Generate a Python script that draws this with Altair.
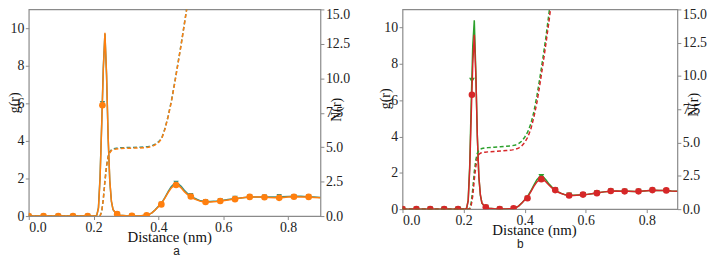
import altair as alt
import pandas as pd

# fine grid for g(r)
r = [0.0, 0.05, 0.1, 0.15, 0.2, 0.205, 0.21, 0.215, 0.22, 0.225, 0.23, 0.235, 0.24, 0.245, 0.25,
     0.255, 0.26, 0.27, 0.28, 0.3, 0.32, 0.34, 0.36, 0.37, 0.38, 0.39, 0.4, 0.41, 0.42, 0.43,
     0.44, 0.45, 0.46, 0.47, 0.48, 0.49, 0.5, 0.51, 0.52, 0.53, 0.545, 0.56, 0.58, 0.6, 0.62,
     0.64, 0.66, 0.68, 0.7, 0.72, 0.74, 0.76, 0.78, 0.8, 0.82, 0.84, 0.86, 0.88, 0.9]

ga_teal = [0, 0, 0, 0, 0, 0, 0.05, 0.45, 2.1, 4.9, 7.9, 9.7, 7.5, 4.1, 1.85,
           0.78, 0.34, 0.12, 0.05, 0.02, 0.01, 0.01, 0.04, 0.08, 0.17, 0.33, 0.52, 0.7, 0.98, 1.3,
           1.57, 1.74, 1.74, 1.58, 1.37, 1.2, 1.08, 0.96, 0.88, 0.81, 0.77, 0.77, 0.8, 0.84, 0.89,
           0.94, 0.98, 1.01, 1.02, 1.02, 1.02, 1.02, 1.03, 1.04, 1.05, 1.05, 1.03, 1.01, 0.99]
ga_orange = [0, 0, 0, 0, 0, 0, 0.05, 0.4, 2.0, 4.8, 7.8, 9.75, 7.6, 4.2, 1.9,
             0.8, 0.35, 0.12, 0.05, 0.02, 0.01, 0.01, 0.04, 0.08, 0.17, 0.32, 0.5, 0.68, 0.95, 1.25,
             1.5, 1.66, 1.66, 1.5, 1.3, 1.14, 1.02, 0.92, 0.85, 0.79, 0.75, 0.75, 0.78, 0.82, 0.87,
             0.92, 0.97, 1.01, 1.02, 1.01, 0.99, 0.97, 0.98, 1.01, 1.03, 1.02, 1.01, 0.99, 0.97]
gb_green = [0, 0, 0, 0, 0, 0, 0.06, 0.5, 2.4, 5.9, 9.0, 10.4, 7.6, 4.0, 1.75,
            0.75, 0.33, 0.12, 0.05, 0.02, 0.01, 0.01, 0.04, 0.08, 0.17, 0.33, 0.52, 0.72, 1.0, 1.33,
            1.62, 1.8, 1.78, 1.6, 1.38, 1.2, 1.07, 0.95, 0.87, 0.81, 0.77, 0.76, 0.78, 0.8, 0.85,
            0.9, 0.95, 0.99, 1.0, 0.99, 0.98, 0.97, 0.98, 1.01, 1.04, 1.03, 1.02, 1.0, 0.99]
gb_red = [0, 0, 0, 0, 0, 0, 0.05, 0.45, 2.2, 5.2, 8.0, 9.6, 7.4, 4.0, 1.8,
          0.78, 0.34, 0.12, 0.05, 0.02, 0.01, 0.01, 0.04, 0.08, 0.17, 0.32, 0.5, 0.68, 0.95, 1.25,
          1.5, 1.64, 1.64, 1.5, 1.32, 1.16, 1.04, 0.93, 0.86, 0.8, 0.75, 0.75, 0.78, 0.8, 0.85,
          0.9, 0.95, 0.99, 1.0, 0.99, 0.98, 0.97, 0.98, 1.01, 1.04, 1.03, 1.02, 1.0, 0.99]

# grid for N(r)
rn = [0.0, 0.1, 0.2, 0.215, 0.22, 0.225, 0.23, 0.235, 0.24, 0.245, 0.25, 0.255, 0.26, 0.27,
      0.28, 0.3, 0.32, 0.34, 0.36, 0.37, 0.38, 0.39, 0.4, 0.41, 0.42, 0.43, 0.44, 0.45, 0.46,
      0.47, 0.48, 0.49, 0.5, 0.52]
na_teal = [0, 0, 0, 0, 0.02, 0.32, 1.25, 2.55, 3.65, 4.35, 4.65, 4.8, 4.87, 4.92,
           4.95, 4.97, 4.98, 4.99, 5.02, 5.05, 5.11, 5.21, 5.38, 5.65, 6.33, 7.25, 8.35, 9.65, 11.05,
           12.45, 13.95, 15.45, 17.0, 20.0]
na_orange = [0, 0, 0, 0, 0.02, 0.3, 1.2, 2.5, 3.6, 4.3, 4.6, 4.75, 4.82, 4.87,
             4.9, 4.92, 4.93, 4.94, 4.97, 5.0, 5.06, 5.16, 5.33, 5.6, 6.3, 7.2, 8.3, 9.6, 11.0,
             12.4, 13.9, 15.4, 17.0, 20.0]
nb_green = [0, 0, 0, 0, 0.05, 0.5, 1.5, 2.8, 3.7, 4.2, 4.4, 4.5, 4.55, 4.6,
            4.62, 4.65, 4.68, 4.72, 4.77, 4.82, 4.92, 5.1, 5.4, 5.8, 6.4, 7.3, 8.5, 9.9, 11.4,
            13.0, 14.8, 16.6, 18.4, 22.0]
nb_red = [0, 0, 0, 0, 0.02, 0.3, 1.0, 2.2, 3.2, 3.85, 4.1, 4.2, 4.25, 4.28,
          4.3, 4.33, 4.36, 4.4, 4.45, 4.5, 4.58, 4.74, 5.0, 5.4, 6.0, 6.9, 8.0, 9.4, 10.9,
          12.5, 14.2, 16.0, 17.8, 21.5]

# marker positions
mk_r = [0.0, 0.0455, 0.0909, 0.1364, 0.1818, 0.2273, 0.2727, 0.3182, 0.3636, 0.4091,
        0.4545, 0.5, 0.5455, 0.5909, 0.6364, 0.6818, 0.7273, 0.7727, 0.8182, 0.8636]
mka_teal = [0, 0, 0, 0, 0, 6.0, 0.1, 0.01, 0.04, 0.64, 1.75, 1.1, 0.77, 0.82, 0.95, 1.02, 1.02, 1.05, 1.05, 1.03]
mka_orange = [0, 0, 0, 0, 0, 5.9, 0.1, 0.01, 0.04, 0.62, 1.65, 1.04, 0.75, 0.8, 0.9, 1.02, 1.0, 0.97, 1.03, 1.02]
mkb_green = [0, 0, 0, 0, 0, 7.1, 0.1, 0.01, 0.04, 0.6, 1.8, 1.07, 0.77, 0.8, 0.9, 1.0, 0.98, 0.98, 1.04, 1.02]
mkb_red = [0, 0, 0, 0, 0, 6.3, 0.1, 0.01, 0.04, 0.6, 1.65, 1.05, 0.75, 0.8, 0.88, 1.0, 0.98, 0.98, 1.05, 1.03]

SERIF = "Liberation Serif"
AXIS_GREY = "#8a8a8a"


def panel(series, width, height, label, gx, gy, nx, ny, dx_title, label_offset, label_dx):
    xenc = alt.X("r:Q", scale=alt.Scale(domain=[0, 0.9], nice=False, zero=False),
                 axis=alt.Axis(values=[0, 0.2, 0.4, 0.6, 0.8], format=".1f",
                               labelFont=SERIF, titleFont=SERIF,
                               title="Distance (nm)", titleX=dx_title, titleY=21,
                               titleBaseline="middle", titleAlign="center"))
    genc = alt.Y("g:Q", scale=alt.Scale(domain=[0, 11], nice=False),
                 axis=alt.Axis(values=[0, 2, 4, 6, 8, 10], format="d", title="g(r)",
                               labelFont=SERIF, titleFont=SERIF, titleFontSize=14,
                               titleAngle=270, titleX=gx, titleY=gy,
                               titleBaseline="middle", titleAlign="center"))
    nenc = alt.Y("n:Q", scale=alt.Scale(domain=[0, 15], nice=False),
                 axis=alt.Axis(values=[0, 2.5, 5, 7.5, 10, 12.5, 15], format=".1f",
                               labelFont=SERIF, titleFont=SERIF, titleFontSize=14,
                               labelOffset={"condition": {"test": "datum.value >= 15", "value": 5},
                                            "value": 0},
                               orient="right", title="N(r)", titleAngle=270,
                               titleX=nx, titleY=ny, titleBaseline="middle",
                               titleAlign="center"))
    g_layers = []
    n_layers = []
    for name, color, shape, msize, gvals, nvals, mvals in series:
        gdf = pd.DataFrame({"r": r, "g": gvals})
        mdf = pd.DataFrame({"r": mk_r, "g": mvals})
        ndf = pd.DataFrame({"r": rn, "n": nvals})
        g_layers.append(alt.Chart(gdf).mark_line(color=color, strokeWidth=1.5, clip=True)
                        .encode(x=xenc, y=genc))
        g_layers.append(alt.Chart(mdf).mark_point(color=color, fill=color, filled=True,
                                                  shape=shape, size=msize, opacity=1, clip=True)
                        .encode(x=xenc, y=genc))
        n_layers.append(alt.Chart(ndf).mark_line(color=color, strokeWidth=1.5,
                                                 strokeDash=[4, 2.5], clip=True)
                        .encode(x=xenc, y=nenc))
    gl = alt.layer(*g_layers)
    nl = alt.layer(*n_layers)
    return alt.layer(gl, nl).resolve_scale(y="independent").properties(
        width=width, height=height,
        title=alt.TitleParams(label, orient="bottom", frame="group", anchor="middle",
                              offset=label_offset, dx=label_dx, baseline="middle",
                              font="Liberation Sans", fontSize=12, fontWeight="normal",
                              color="#222222"))


pa = panel([
    ("teal", "#3a8f7e", "triangle-down", 30, ga_teal, na_teal, mka_teal),
    ("orange", "#ff7f0e", "circle", 45, ga_orange, na_orange, mka_orange),
], 295, 209, "a", -14, 94, 16, 101, 142, 6, 2)

pb = panel([
    ("green", "#2ca02c", "triangle-down", 35, gb_green, nb_green, mkb_green),
    ("red", "#d62728", "circle", 45, gb_red, nb_red, mkb_red),
], 278, 202, "b", -17, 90, 16, 96, 133, 6, -20)

chart = alt.hconcat(pa, pb, spacing=83, bounds="flush").properties(
    autosize=alt.AutoSizeParams(type="none"),
    padding={"left": 21, "top": 0, "right": 691, "bottom": 250},
).configure(
    font=SERIF
).configure_view(
    stroke=AXIS_GREY, strokeWidth=1.2
).configure_axis(
    labelFont=SERIF, labelFontSize=14, labelColor="#222222",
    titleFont=SERIF, titleFontSize=15, titleFontWeight="normal", titleColor="#111111",
    domain=False, grid=False, ticks=True, tickSize=3.5, tickColor=AXIS_GREY,
    labelPadding=1.5,
)

chart.save("out.html", embed_options={"renderer": "svg", "actions": False})
